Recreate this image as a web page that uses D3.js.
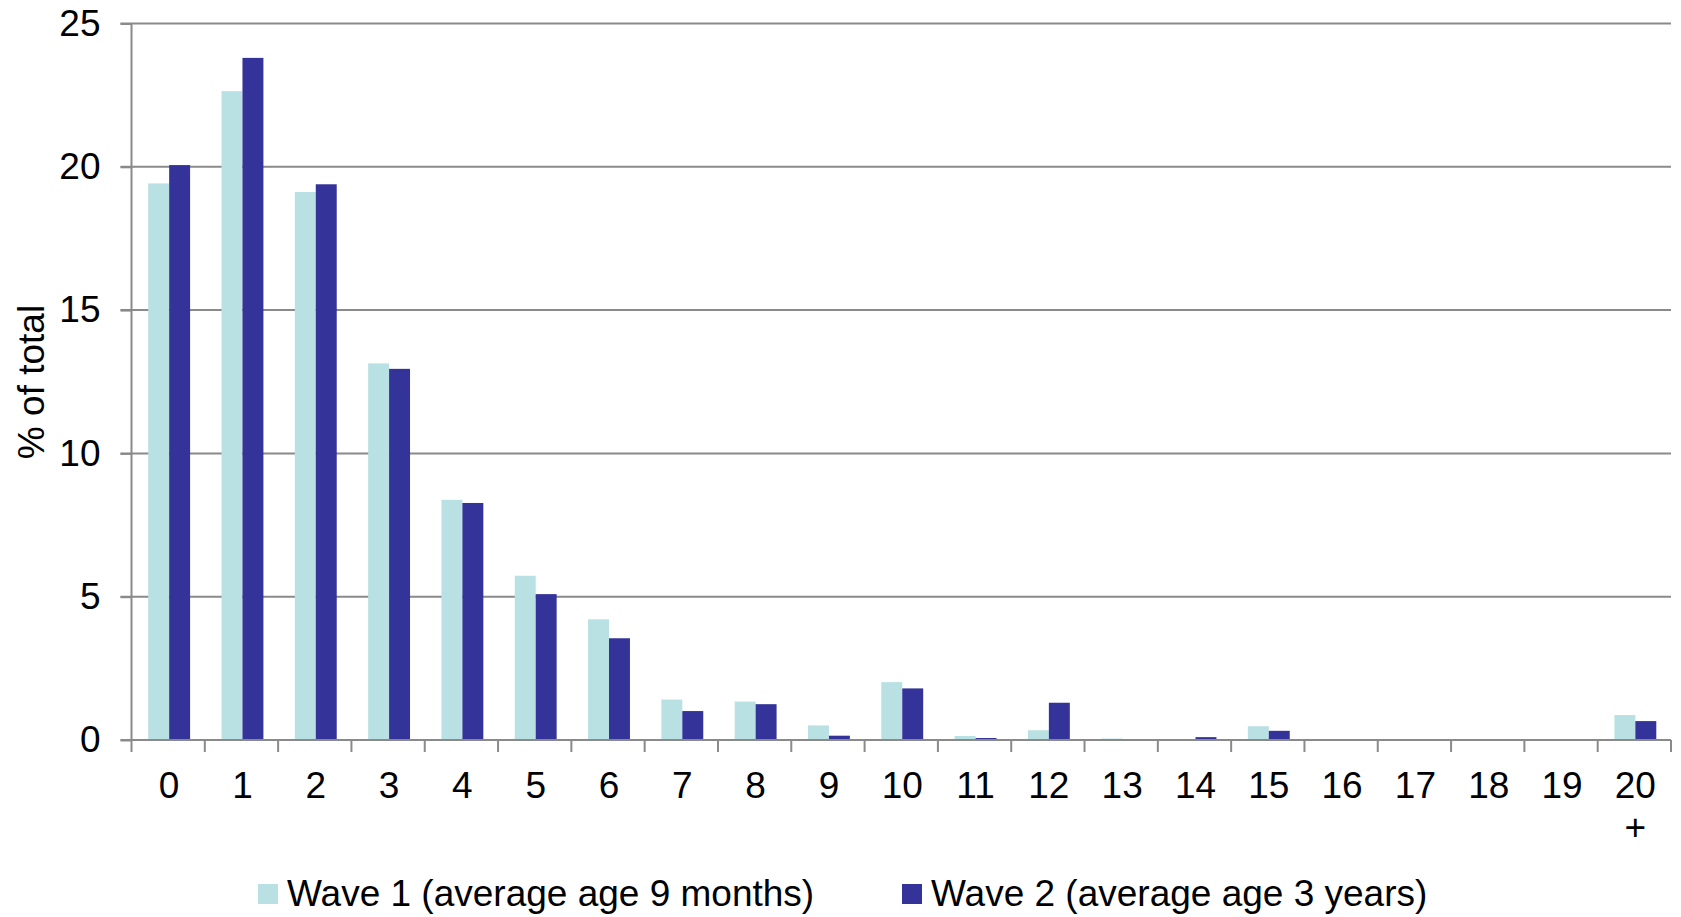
<!DOCTYPE html>
<html>
<head>
<meta charset="utf-8">
<script src="https://cdn.jsdelivr.net/npm/d3@7/dist/d3.min.js"></script>
<style>
  html, body { margin: 0; padding: 0; background: #fff; }
  svg { display: block; }
  text { font-family: "Liberation Sans", Arial, sans-serif; fill: #000; }
</style>
</head>
<body>
<svg id="chart" width="1681" height="917"></svg>
<script>
const categories = ["0","1","2","3","4","5","6","7","8","9","10","11","12","13","14","15","16","17","18","19","20+"];
const seriesNames = ["Wave 1 (average age 9 months)", "Wave 2 (average age 3 years)"];
const wave1 = [19.42, 22.64, 19.12, 13.14, 8.38, 5.73, 4.21, 1.41, 1.34, 0.51, 2.02, 0.14, 0.34, 0.05, 0.01, 0.48, 0.02, 0.0, 0.02, 0.0, 0.87];
const wave2 = [20.06, 23.80, 19.39, 12.95, 8.27, 5.09, 3.55, 1.01, 1.25, 0.15, 1.80, 0.07, 1.30, 0.02, 0.10, 0.32, 0.01, 0.0, 0.01, 0.0, 0.66];
const yTicks = [0, 5, 10, 15, 20, 25];
const colors = ["#B9E0E3", "#333399"];

(function () {
const svg = d3.select("#chart");
const mLeft = 131.5, mRight = 1671, mTop = 23.5, mBottom = 740;
const fontSize = 37;
const gridColor = "#8a8a8a";

const x0 = d3.scaleBand().domain(categories).range([mLeft, mRight])
  .paddingInner(1.5 / 3.5).paddingOuter(0.75 / 3.5);
const x1 = d3.scaleBand().domain([0, 1]).range([0, x0.bandwidth()]).padding(0);
const y = d3.scaleLinear().domain([0, 25]).range([mBottom, mTop]);
const step = (mRight - mLeft) / categories.length;

svg.append("g").selectAll("line").data(yTicks.filter(d => d > 0)).join("line")
  .attr("x1", mLeft - 11).attr("x2", mRight)
  .attr("y1", d => y(d)).attr("y2", d => y(d))
  .attr("stroke", gridColor).attr("stroke-width", 2);

const data = categories.map((c, i) => ({ c, v: [wave1[i], wave2[i]] }));
const groups = svg.append("g").selectAll("g").data(data).join("g")
  .attr("transform", d => `translate(${x0(d.c) + 1},0)`);
groups.selectAll("rect").data(d => d.v.map((v, k) => ({ v, k }))).join("rect")
  .attr("x", d => x1(d.k))
  .attr("width", x1.bandwidth())
  .attr("y", d => y(d.v))
  .attr("height", d => mBottom - y(d.v))
  .attr("fill", d => colors[d.k]);

const yAxis = d3.axisLeft(y).tickValues(yTicks).tickSize(11).tickPadding(20);
const gy = svg.append("g").attr("transform", `translate(${mLeft},0)`).call(yAxis);
gy.select(".domain").attr("stroke", gridColor).attr("stroke-width", 2)
  .attr("d", `M0,${mTop}V${mBottom}`);
gy.selectAll(".tick line").attr("stroke", gridColor).attr("stroke-width", 2);
gy.selectAll(".tick text").style("font-size", fontSize + "px")
  .style("font-family", '"Liberation Sans", Arial, sans-serif').attr("fill", "#000");

const xg = svg.append("g");
xg.append("line").attr("x1", mLeft - 11).attr("x2", mRight)
  .attr("y1", mBottom).attr("y2", mBottom)
  .attr("stroke", gridColor).attr("stroke-width", 2);
const boundaries = d3.range(categories.length + 1).map(i => mLeft + i * step);
xg.selectAll("line.tk").data(boundaries).join("line").attr("class", "tk")
  .attr("x1", d => d).attr("x2", d => d)
  .attr("y1", mBottom).attr("y2", mBottom + 12)
  .attr("stroke", gridColor).attr("stroke-width", 2);

const xl = svg.append("g").selectAll("text").data(categories).join("text")
  .attr("x", d => x0(d) + x0.bandwidth() / 2 + 1)
  .attr("y", 798)
  .attr("text-anchor", "middle")
  .style("font-size", fontSize + "px");
xl.each(function(d) {
  const t = d3.select(this);
  if (d.endsWith("+")) {
    t.append("tspan").attr("x", t.attr("x")).text(d.slice(0, -1));
    t.append("tspan").attr("x", t.attr("x")).attr("dy", 42).text("+");
  } else {
    t.text(d);
  }
});

svg.append("text")
  .attr("transform", "translate(44,382) rotate(-90)")
  .attr("text-anchor", "middle")
  .style("font-size", fontSize + "px")
  .text("% of total");

const legendX = [258, 902];
const lg = svg.append("g").selectAll("g").data(seriesNames).join("g")
  .attr("transform", (d, i) => `translate(${legendX[i]},0)`);
lg.append("rect").attr("x", 0).attr("y", 884).attr("width", 20).attr("height", 20)
  .attr("fill", (d, i) => colors[i]);
lg.append("text").attr("x", 29).attr("y", 906)
  .style("font-size", fontSize + "px").text(d => d);
})();
</script>
</body>
</html>
